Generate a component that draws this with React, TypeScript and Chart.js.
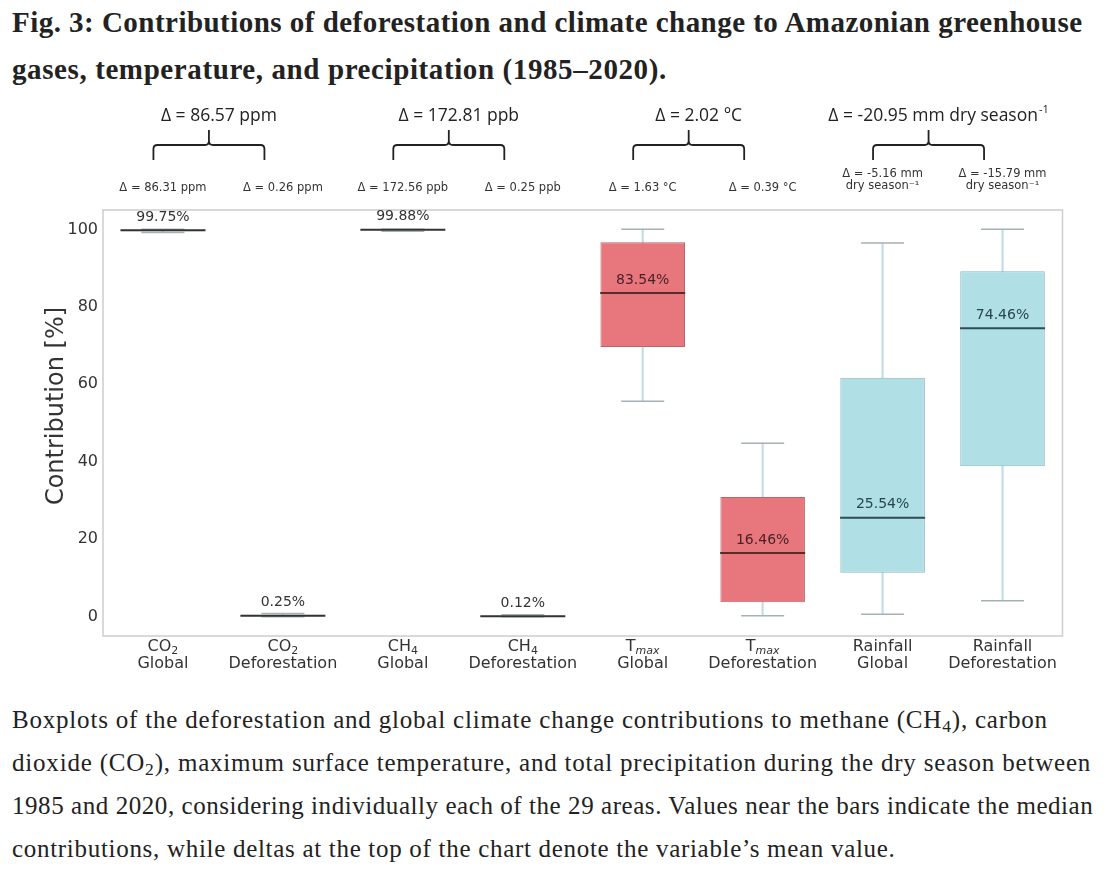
import React, { useEffect, useRef } from "react";
import { Chart, registerables } from "chart.js";
Chart.register(...registerables);

// ---- data ----
const labelMain = ["CO", "CO", "CH", "CH", "T", "T", "Rainfall", "Rainfall"];
const labelSub = ["2", "2", "4", "4", "max", "max", "", ""];
const labelGroup = ["Global", "Deforestation", "Global", "Deforestation", "Global", "Deforestation", "Global", "Deforestation"];

const whiskerLow = [99.2, 0.0, 99.5, 0.0, 55.6, 0.2, 0.6, 4.1];
const quart1 = [99.5, 0.1, 99.8, 0.05, 69.6, 3.7, 11.3, 38.8];
const medians = [99.75, 0.25, 99.88, 0.12, 83.54, 16.46, 25.54, 74.46];
const quart3 = [99.9, 0.5, 99.95, 0.2, 96.7, 30.9, 61.7, 89.2];
const whiskerHigh = [100, 0.8, 100, 0.5, 100, 44.8, 96.5, 100];

const yTicks = [0, 20, 40, 60, 80, 100];

const subDeltas = [
  ["Δ = 86.31 ppm"],
  ["Δ = 0.26 ppm"],
  ["Δ = 172.56 ppb"],
  ["Δ = 0.25 ppb"],
  ["Δ = 1.63 °C"],
  ["Δ = 0.39 °C"],
  ["Δ = -5.16 mm", "dry season⁻¹"],
  ["Δ = -15.79 mm", "dry season⁻¹"],
];
const totalDeltas = ["Δ = 86.57 ppm", "Δ = 172.81 ppb", "Δ = 2.02 °C", "Δ = -20.95 mm dry season"];
const totalDeltaSup = ["", "", "", "-1"];

// ---- styles ----
const RED = "#e8767d";
const CYAN = "#b0e0e6";
const boxColors = ["#c8c8c8", "#c8c8c8", "#c8c8c8", "#c8c8c8", RED, RED, CYAN, CYAN];
const boxEdge = ["#9a9a9a", "#9a9a9a", "#9a9a9a", "#9a9a9a", "#b7676c", "#b7676c", "#8db5ba", "#8db5ba"];
const medianColors = ["#333333", "#333333", "#333333", "#333333", "#5a2a2e", "#5a2a2e", "#2c4d52", "#2c4d52"];
const labelColors = ["#333333", "#333333", "#333333", "#333333", "#4a2226", "#4a2226", "#26464b", "#26464b"];
const WHISKER = "#c4dde2";
const CAP = "#a6b1b3";
const SANS = "'DejaVu Sans'";

const annotPlugin = {
  id: "annot",
  beforeDatasetsDraw(chart: any) {
    const { ctx, chartArea: a } = chart;
    ctx.save();
    ctx.strokeStyle = "#cdcdcd";
    ctx.lineWidth = 1.5;
    ctx.strokeRect(a.left, a.top, a.right - a.left, a.bottom - a.top);
    ctx.restore();
  },
  afterDraw(chart: any) {
    const { ctx, chartArea: a } = chart;
    const x = chart.scales.x;
    const y = chart.scales.y;
    ctx.save();
    ctx.textAlign = "center";
    ctx.textBaseline = "middle";

    // median labels
    ctx.font = `14px ${SANS}`;
    medians.forEach((m, i) => {
      ctx.fillStyle = labelColors[i];
      ctx.fillText(m.toFixed(2) + "%", x.getPixelForValue(i), y.getPixelForValue(m) - 13);
    });

    // x labels
    ctx.fillStyle = "#333";
    labelMain.forEach((main, i) => {
      const cx = x.getPixelForValue(i);
      const ly1 = a.bottom + 11;
      const ly2 = a.bottom + 28;
      ctx.textAlign = "left";
      ctx.font = `16px ${SANS}`;
      const wm = ctx.measureText(main).width;
      const subFont = labelSub[i] === "max" ? `italic 11px ${SANS}` : `11px ${SANS}`;
      ctx.font = subFont;
      const ws = labelSub[i] ? ctx.measureText(labelSub[i]).width : 0;
      const start = cx - (wm + ws) / 2;
      ctx.font = `16px ${SANS}`;
      ctx.fillText(main, start, ly1);
      if (labelSub[i]) {
        ctx.font = subFont;
        ctx.fillText(labelSub[i], start + wm, ly1 + 4);
      }
      ctx.textAlign = "center";
      ctx.font = `16px ${SANS}`;
      ctx.fillText(labelGroup[i], cx, ly2);
    });

    // y title
    ctx.save();
    ctx.translate(57, (a.top + a.bottom) / 2 - 17);
    ctx.rotate(-Math.PI / 2);
    ctx.font = `24px ${SANS}`;
    ctx.fillStyle = "#333";
    ctx.textAlign = "center";
    ctx.fillText("Contribution [%]", 0, 0);
    ctx.restore();

    // sub deltas
    ctx.font = `11.5px ${SANS}`;
    ctx.fillStyle = "#333";
    ctx.textAlign = "center";
    subDeltas.forEach((lines, i) => {
      const cx = x.getPixelForValue(i);
      if (lines.length === 1) {
        ctx.fillText(lines[0], cx, 93);
      } else {
        ctx.fillText(lines[0], cx, 79);
        ctx.fillText(lines[1], cx, 91);
      }
    });

    // brackets + total deltas
    totalDeltas.forEach((txt, p) => {
      const mid = (x.getPixelForValue(2 * p) + x.getPixelForValue(2 * p + 1)) / 2;
      const bc = mid - 14;
      const left = bc - 55.5;
      const right = bc + 55.5;
      const hy = 50;
      const r = 4;
      ctx.beginPath();
      ctx.strokeStyle = "#222";
      ctx.lineWidth = 1.8;
      ctx.moveTo(left, 65);
      ctx.lineTo(left, hy + r);
      ctx.quadraticCurveTo(left, hy, left + r, hy);
      ctx.lineTo(bc - r, hy);
      ctx.quadraticCurveTo(bc, hy, bc, hy - r);
      ctx.lineTo(bc, 35);
      ctx.moveTo(bc, hy - r);
      ctx.quadraticCurveTo(bc, hy, bc + r, hy);
      ctx.lineTo(right - r, hy);
      ctx.quadraticCurveTo(right, hy, right, hy + r);
      ctx.lineTo(right, 65);
      ctx.stroke();

      ctx.fillStyle = "#222";
      ctx.font = "17.5px 'Open Sans'";
      const w = ctx.measureText(txt).width;
      let ws = 0;
      if (totalDeltaSup[p]) {
        ctx.font = "11px 'Open Sans'";
        ws = ctx.measureText(totalDeltaSup[p]).width + 1;
      }
      const tc = mid - 4;
      const start = tc - (w + ws) / 2;
      ctx.textAlign = "left";
      ctx.font = "17.5px 'Open Sans'";
      ctx.fillText(txt, start, 21);
      if (totalDeltaSup[p]) {
        ctx.font = "11px 'Open Sans'";
        ctx.fillText(totalDeltaSup[p], start + w + 1, 15);
      }
      ctx.textAlign = "center";
    });

    ctx.restore();
  },
};

export default function App() {
  const ref = useRef<HTMLCanvasElement | null>(null);
  useEffect(() => {
    if (!ref.current) return;
    const chart = new Chart(ref.current, {
      data: {
        labels: labelGroup,
        datasets: [
          {
            type: "bar",
            data: whiskerLow.map((v, i) => [v, whiskerHigh[i]]) as any,
            backgroundColor: WHISKER,
            barThickness: 1.5,
            grouped: false,
            order: 3,
          } as any,
          {
            type: "bar",
            data: quart1.map((v, i) => [v, quart3[i]]) as any,
            backgroundColor: boxColors,
            borderColor: boxEdge,
            borderWidth: 1,
            borderSkipped: false,
            barPercentage: 0.705,
            categoryPercentage: 1,
            grouped: false,
            order: 2,
          } as any,
          {
            type: "line",
            data: whiskerLow,
            showLine: false,
            pointStyle: "line",
            pointRadius: 21.5,
            pointHoverRadius: 21.5,
            pointBorderWidth: 1.5,
            pointBorderColor: CAP,
            order: 1,
          } as any,
          {
            type: "line",
            data: whiskerHigh,
            showLine: false,
            pointStyle: "line",
            pointRadius: 21.5,
            pointHoverRadius: 21.5,
            pointBorderWidth: 1.5,
            pointBorderColor: CAP,
            order: 1,
          } as any,
          {
            type: "line",
            data: medians,
            showLine: false,
            pointStyle: "line",
            pointRadius: 42.5,
            pointHoverRadius: 42.5,
            pointBorderWidth: 2,
            pointBorderColor: medianColors,
            order: 0,
          } as any,
        ],
      },
      options: {
        animation: false,
        responsive: false,
        events: [],
        layout: { padding: { top: 115, left: 8, right: 40, bottom: 0 } },
        plugins: { legend: { display: false }, tooltip: { enabled: false } },
        scales: {
          x: {
            type: "category",
            offset: true,
            grid: { display: false },
            border: { display: false },
            ticks: { display: false },
            afterFit: (s: any) => {
              s.height = 49;
            },
          },
          y: {
            type: "linear",
            min: -5,
            max: 105,
            grid: { display: false, drawTicks: false },
            border: { display: false },
            afterBuildTicks: (s: any) => {
              s.ticks = yTicks.map((v) => ({ value: v }));
            },
            ticks: { font: { family: "DejaVu Sans", size: 16 }, color: "#333", padding: 5 },
            afterFit: (s: any) => {
              s.width = 95;
            },
          },
        },
      } as any,
      plugins: [annotPlugin],
    } as any);
    return () => chart.destroy();
  }, []);

  const sub: React.CSSProperties = { fontSize: "0.7em", lineHeight: 0, verticalAlign: "-0.25em" };

  return (
    <div style={{ position: "fixed", left: 0, top: 0, width: 1107, height: 873, overflow: "hidden", background: "#fff" }}>
      <div
        style={{
          position: "absolute",
          left: 12,
          top: -1,
          fontFamily: "'Liberation Serif', serif",
          fontWeight: 700,
          fontSize: 29,
          letterSpacing: "0.47px",
          lineHeight: "47px",
          color: "#222",
          whiteSpace: "nowrap",
        }}
      >
        Fig. 3: Contributions of deforestation and climate change to Amazonian greenhouse
        <br />
        <span style={{ letterSpacing: "0.6px" }}>gases, temperature, and precipitation (1985–2020).</span>
      </div>
      <canvas ref={ref} width={1107} height={590} style={{ position: "absolute", left: 0, top: 95, width: 1107, height: 590 }} />
      <div
        style={{
          position: "absolute",
          left: 12,
          top: 698,
          fontFamily: "'Liberation Serif', serif",
          fontSize: 25,
          lineHeight: "43px",
          color: "#222",
          whiteSpace: "nowrap",
        }}
      >
        <span style={{ letterSpacing: "0.8px" }}>
          Boxplots of the deforestation and global climate change contributions to methane (CH<sub style={sub}>4</sub>), carbon
        </span>
        <br />
        <span style={{ letterSpacing: "0.8px" }}>
          dioxide (CO<sub style={sub}>2</sub>), maximum surface temperature, and total precipitation during the dry season between
        </span>
        <br />
        <span style={{ letterSpacing: "0.56px" }}>
          1985 and 2020, considering individually each of the 29 areas. Values near the bars indicate the median
        </span>
        <br />
        <span style={{ letterSpacing: "0.7px" }}>
          contributions, while deltas at the top of the chart denote the variable’s mean value.
        </span>
      </div>
    </div>
  );
}
